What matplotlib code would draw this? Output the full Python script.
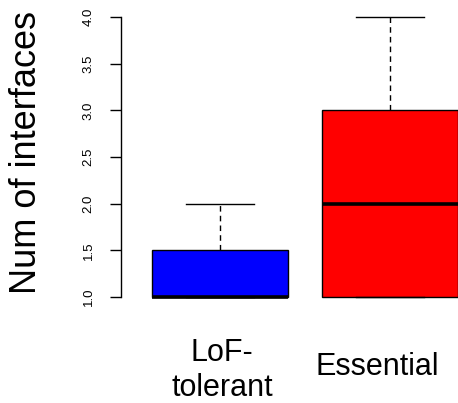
import matplotlib
matplotlib.use('Agg')
import matplotlib.pyplot as plt

plt.rcParams['font.family'] = ['Liberation Sans', 'DejaVu Sans']

# Box statistics per gene group
groups = ['LoF-\ntolerant', 'Essential']
q1 = [1.0, 1.0]
medians = [1.0, 2.0]
q3 = [1.5, 3.0]
whisker_low = [1.0, 1.0]
whisker_high = [2.0, 4.0]
colors = ['#0000ff', '#ff0000']
yticks = [1.0, 1.5, 2.0, 2.5, 3.0, 3.5, 4.0]

stats = []
for i, name in enumerate(groups):
    stats.append({'label': name, 'q1': q1[i], 'med': medians[i], 'q3': q3[i],
                  'whislo': whisker_low[i], 'whishi': whisker_high[i], 'fliers': []})

W, H = 458, 403
fig = plt.figure(figsize=(W / 100, H / 100), dpi=100)
ax = fig.add_axes([121 / W, 0, 1 - 121 / W, 1])

bp = ax.bxp(stats, positions=[1, 2], widths=0.8, capwidths=0.4,
            showfliers=False, patch_artist=True,
            boxprops=dict(linewidth=1.0, edgecolor='black'),
            medianprops=dict(color='black', linewidth=2.6, solid_capstyle='butt'),
            whiskerprops=dict(color='black', linewidth=1.0, linestyle=(0, (4, 3))),
            capprops=dict(color='black', linewidth=1.0))
for patch, c in zip(bp['boxes'], colors):
    patch.set_facecolor(c)

ax.set_xlim((121 - 50) / 170, (458 - 50) / 170)
ax.set_ylim(1 - 106 / 93.33, 1 + 297 / 93.33)

for side in ['top', 'right', 'bottom']:
    ax.spines[side].set_visible(False)
ax.spines['left'].set_bounds(1, 4)
ax.spines['left'].set_linewidth(1.0)
ax.set_xticks([])
ax.set_yticks(yticks)
ax.set_yticklabels([f'{v:.1f}' for v in yticks], rotation=90, va='center', fontsize=9.5)
ax.tick_params(axis='y', length=8, width=1.0, pad=11)

fig.text(27 / W, 1 - 153 / H, 'Num of interfaces', rotation=90, fontsize=26,
         ha='center', va='center')

# group names under the boxes, one text per line
first, second = groups[0].split('\n')
fig.text(222 / W, 1 - 361 / H, first, fontsize=22, ha='center', va='baseline')
fig.text(222 / W, 1 - 396 / H, second, fontsize=22, ha='center', va='baseline')
fig.text(377 / W, 1 - 375 / H, groups[1], fontsize=22, ha='center', va='baseline')

fig.savefig('out.png', dpi=100)
